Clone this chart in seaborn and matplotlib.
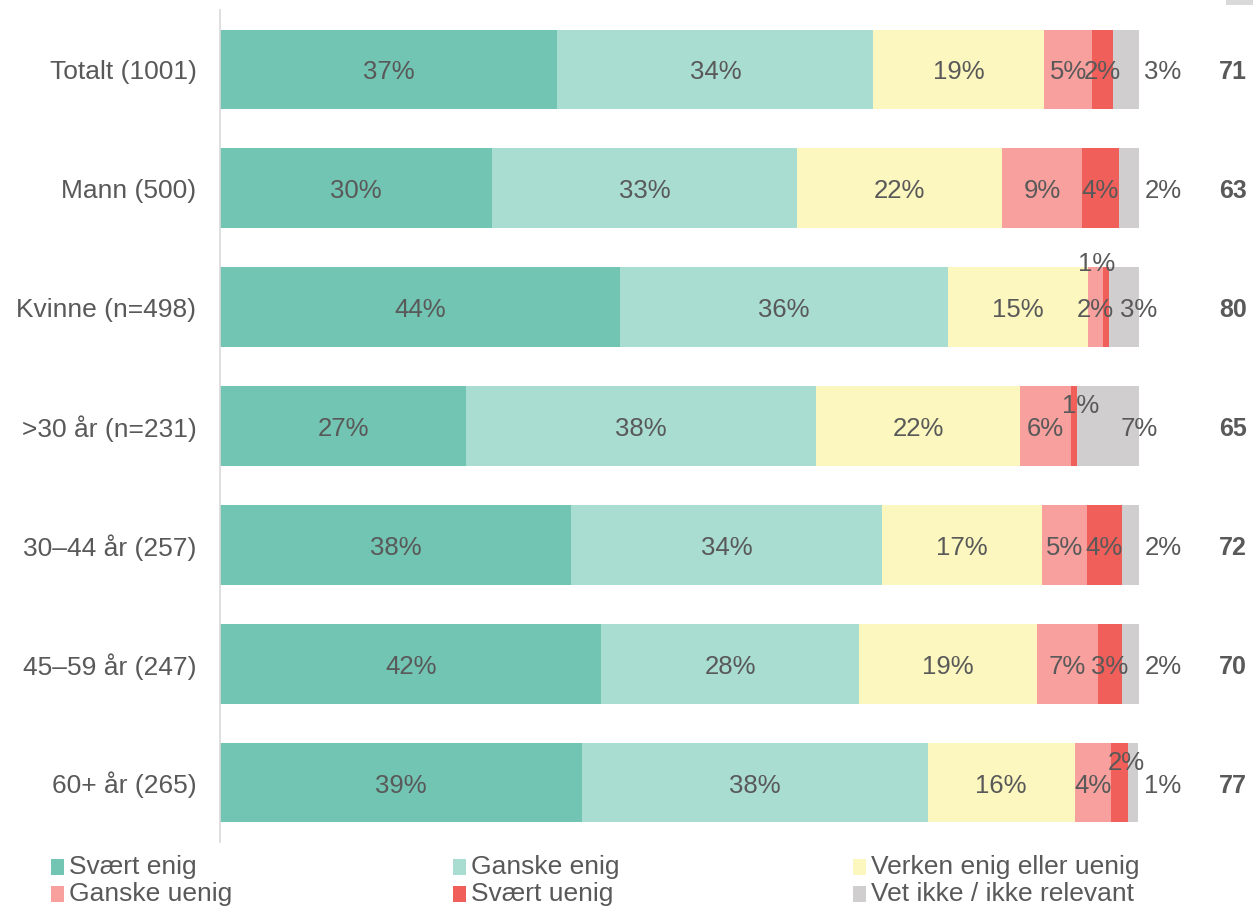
import numpy as np
import pandas as pd
import matplotlib
matplotlib.use("Agg")
import matplotlib.pyplot as plt
from matplotlib.patches import Rectangle
import seaborn as sns

# ---- data ----
groups = ["Totalt (1001)", "Mann (500)", "Kvinne (n=498)", ">30 år (n=231)",
          "30–44 år (257)", "45–59 år (247)", "60+ år (265)"]
svaert_enig = [36.7, 29.6, 43.5, 26.8, 38.2, 41.5, 39.4]
ganske_enig = [34.4, 33.2, 35.7, 38.0, 33.8, 28.0, 37.6]
verken = [18.6, 22.3, 15.2, 22.3, 17.4, 19.4, 16.0]
ganske_uenig = [5.2, 8.7, 1.7, 5.5, 4.9, 6.6, 3.9]
svaert_uenig = [2.3, 4.0, 0.6, 0.6, 3.8, 2.6, 1.85]
vet_ikke = [2.8, 2.2, 3.3, 6.8, 1.9, 1.9, 1.15]
scores = [71, 63, 80, 65, 72, 70, 77]
series_names = ["Svært enig", "Ganske enig", "Verken enig eller uenig",
                "Ganske uenig", "Svært uenig", "Vet ikke / ikke relevant"]
colors = ["#72C4B3", "#A9DDD2", "#FCF7BE", "#F7A09D", "#F05F5A", "#D0CECF"]

series = [svaert_enig, ganske_enig, verken, ganske_uenig, svaert_uenig, vet_ikke]

sns.set_theme(style="white")
plt.rcParams["font.family"] = ["Liberation Sans", "DejaVu Sans"]
TXT = "#595959"

fig = plt.figure(figsize=(12.53, 9.07), dpi=100)
ax = fig.add_axes([220 / 1253, 1 - 842 / 907, (1139 - 220) / 1253, (842 - 10) / 907])

vals = np.array(series)
cum = np.cumsum(vals, axis=0)
df = pd.DataFrame({"group": groups})
for i in range(len(series)):
    df[f"cum{i}"] = cum[i]

# draw from the last (longest) cumulative series to the first
for i in reversed(range(len(series))):
    sns.barplot(data=df, x=f"cum{i}", y="group", orient="h", color=colors[i],
                width=0.67, ax=ax, saturation=1, linewidth=0, order=groups)

ax.set_xlim(0, 100)
ax.set_ylim(6.5, -0.5)
ax.set_xlabel("")
ax.set_ylabel("")
ax.set_xticks([])
ax.tick_params(axis="y", length=0, pad=17, labelsize=19, labelcolor=TXT)
for s in ["top", "right", "bottom"]:
    ax.spines[s].set_visible(False)
ax.spines["left"].set_color("#D9D9D9")
ax.spines["left"].set_linewidth(1.2)

DY = 0.025
for r in range(len(groups)):
    for i in range(len(series)):
        v = vals[i, r]
        start = cum[i, r] - v
        lab = f"{v:.0f}%"
        x = start + v / 2
        y = r
        if i == 5:
            x = 100 if vals[4, r] < 1 else 102.6
        elif i == 4 and v < 2:
            y = r - 0.39 if vals[3, r] < 3 else r - 0.19
            if vals[3, r] >= 3:
                x = x + 0.8
            else:
                x = x - 1.0
        elif i == 4 and r == 6:
            y = r - 0.35
            x = x - 0.6
        ax.text(x, y + DY, lab, ha="center", va="center", fontsize=18.5, color=TXT,
                clip_on=False)
    ax.text(110.2, r + DY, str(scores[r]), ha="center", va="center", fontsize=18,
            fontweight="bold", color=TXT, clip_on=False)

# small decorative grey block at the top right corner
fig.add_artist(Rectangle((1226 / 1253, 1 - 5 / 907), 27 / 1253, 5 / 907,
                         transform=fig.transFigure, facecolor="#D9D9D9",
                         edgecolor="none"))

# legend (manual, 3 columns x 2 rows)
col_x = [51, 453, 853]
row_y = [867, 894]
order = [(0, 0, 0), (1, 0, 1), (2, 0, 2), (3, 1, 0), (4, 1, 1), (5, 1, 2)]
for idx, rr, cc in order:
    x0 = col_x[cc] / 1253
    y0 = 1 - row_y[rr] / 907
    fig.add_artist(Rectangle((x0, y0 - 8 / 907), 13 / 1253, 16 / 907,
                             transform=fig.transFigure, facecolor=colors[idx],
                             edgecolor="none"))
    fig.text(x0 + 18 / 1253, y0, series_names[idx], ha="left", va="center",
             fontsize=19, color=TXT)

fig.savefig("out.png", dpi=100)
